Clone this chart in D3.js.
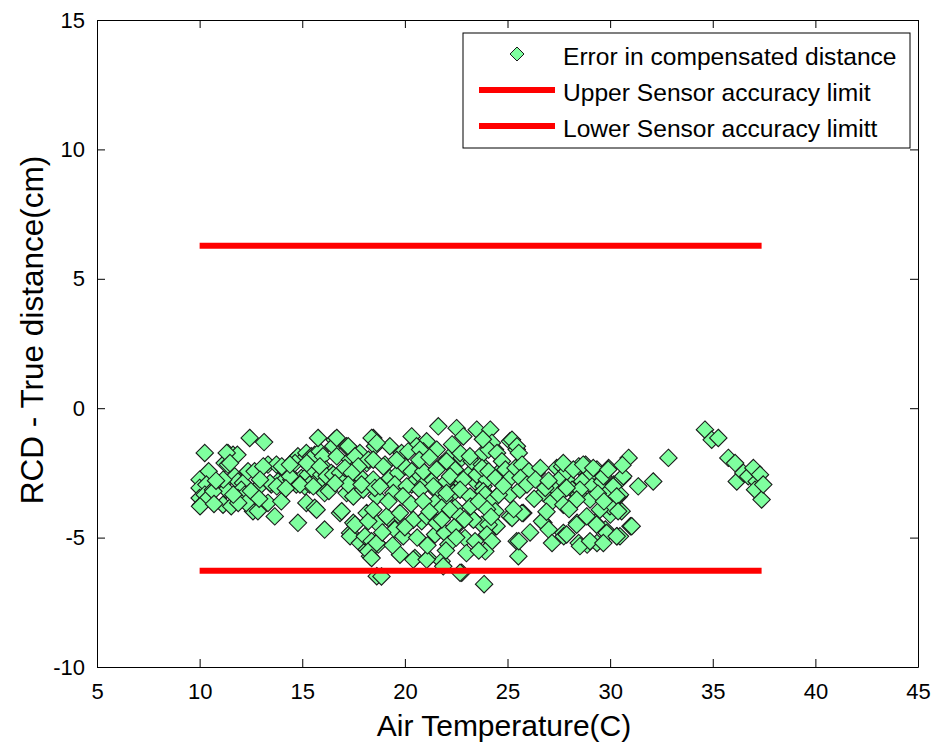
<!DOCTYPE html>
<html>
<head>
<meta charset="utf-8">
<script src="https://cdn.jsdelivr.net/npm/d3@7"></script>
<style>
  html, body { margin: 0; padding: 0; background: #fff; }
  svg { display: block; font-family: "Liberation Sans", Arial, sans-serif; }
</style>
</head>
<body>
<svg id="chart" width="936" height="744"></svg>
<script>
// ---- data ----
const xTicks = [5, 10, 15, 20, 25, 30, 35, 40, 45];
const yTicks = [-10, -5, 0, 5, 10, 15];
const xLabel = "Air Temperature(C)";
const yLabel = "RCD - True distance(cm)";
const legendLabels = ["Error in compensated distance", "Upper Sensor accuracy limit", "Lower Sensor accuracy limitt"];

// accuracy limits (start temp, end temp, value)
const limitTemps = [10, 37.38];
const upperLimit = 6.28;
const lowerLimit = -6.28;

// scatter: air temperature (C)
const temps = [
10.25,12.44,13.14,11.38,11.63,11.84,11.22,11.38,10.44,10.0,10.0,10.0,10.08,10.33,10.25,10.41,10.65,11.22,11.30,11.14,
11.54,11.71,11.87,12.11,12.03,11.87,12.20,12.36,12.68,12.60,12.84,11.95,12.27,13.00,13.33,13.49,13.74,13.82,14.15,14.06,
13.33,13.98,13.66,14.79,16.09,14.55,14.79,15.04,15.20,15.44,15.61,15.85,16.01,15.77,16.58,14.31,14.47,14.71,14.96,15.12,
15.28,15.52,15.77,15.93,16.17,16.41,15.36,15.85,16.09,15.20,15.61,
11.32,11.48,10.67,10.02,11.15,11.88,11.64,13.43,14.00,13.76,14.40,14.65,14.89,15.54,15.70,16.51,16.68,17.16,17.33,17.81,
18.46,18.14,13.10,12.94,14.40,15.22,15.86,16.19,16.51,16.84,17.16,17.49,17.81,17.16,17.49,17.97,18.46,18.63,18.14,17.49,
16.84,17.33,18.63,17.33,17.81,18.14,18.30,18.63,
21.63,22.52,22.85,23.50,20.33,21.06,20.57,21.55,20.90,16.68,17.24,18.38,18.54,19.27,19.84,20.16,17.57,18.22,17.73,17.08,
17.41,17.24,17.89,18.54,19.03,19.27,19.68,19.51,20.00,20.33,20.65,20.33,20.98,21.30,20.82,21.55,21.79,22.12,22.44,22.77,
22.69,23.10,23.42,23.26,23.75,23.83,22.03,22.36,21.95,21.47,21.79,22.44,16.92,17.57,18.22,18.05,18.38,18.22,18.38,18.70,
19.19,19.68,19.51,19.92,19.76,20.49,21.14,20.82,21.30,21.47,21.95,22.12,22.60,22.93,23.26,23.42,23.75,21.79,22.77,18.86,
23.86,
20.74,18.63,18.46,22.03,22.69,23.17,23.82,24.39,25.12,25.45,18.95,20.90,21.55,22.20,22.85,23.50,23.99,24.63,25.12,25.77,
26.42,27.40,27.88,18.79,19.44,20.09,20.74,21.39,22.03,22.69,23.17,23.82,24.47,25.12,25.60,26.75,27.40,18.46,19.11,19.76,
20.41,21.06,21.55,22.20,22.69,23.34,24.47,25.12,25.77,26.75,27.72,18.63,20.41,21.06,21.87,22.69,25.45,25.53,
24.16,25.22,25.46,25.55,24.24,24.08,24.49,23.76,24.08,24.41,24.73,24.90,25.14,25.39,25.71,26.04,25.63,25.95,26.60,26.36,
26.84,27.17,27.66,27.58,27.90,28.15,27.82,27.50,28.47,28.80,28.96,28.64,28.47,29.12,29.36,29.61,29.93,29.85,30.18,30.59,
30.42,30.90,23.92,24.24,24.57,24.41,24.08,24.00,24.24,23.92,25.22,25.71,25.55,26.68,27.01,27.17,27.74,28.39,28.47,28.88,
29.28,29.36,29.77,30.34,30.01,30.99,
32.84,30.64,31.37,32.10,30.48,30.56,31.05,30.48,34.62,34.95,35.27,35.76,36.09,36.17,36.49,36.73,36.98,37.14,37.30,37.06,
37.38,37.46,
27.72,28.21,28.69,29.18,29.67,29.91,30.15,30.32,29.99,30.39,29.50,29.02,28.53,27.88,28.37,27.72,28.86,28.37,29.34,29.83,
30.32,27.88,28.53,29.02,29.67,
19.2,19.9,20.3,20.9,21.2,21.8,22.4,22.9,23.2,23.6,24.0,20.0,20.6,21.1,22.0,22.5,23.0,23.6,24.2,19.4,
18.9,16.3,16.6,14.2,12.5,12.9,10.8,10.7,26.3,26.9,27.0,28.0,29.4,29.7,30.6,24.8,25.3,26.1,19.6,20.7,
21.2,22.3,23.8
];
// scatter: error (cm)
const errors = [
-1.73,-1.15,-1.31,-1.73,-1.80,-1.80,-2.12,-2.18,-2.44,-2.76,-3.08,-3.47,-3.73,-2.95,-3.34,-3.47,-3.15,-2.83,-3.15,-3.73,
-3.79,-2.63,-2.83,-2.89,-3.15,-3.47,-3.34,-2.44,-2.44,-3.98,-3.98,-3.60,-3.66,-2.95,-2.18,-2.95,-2.18,-2.83,-2.37,-2.83,
-3.66,-3.60,-4.18,-4.43,-4.69,-2.05,-1.86,-1.99,-1.73,-1.86,-1.80,-1.67,-1.86,-1.15,-1.22,-2.50,-2.76,-2.95,-2.70,-3.02,
-2.57,-2.37,-2.76,-2.57,-2.37,-2.50,-2.95,-3.02,-3.28,-3.66,-3.85,
-1.73,-2.12,-3.21,-3.79,-2.76,-3.66,-3.34,-2.89,-2.25,-3.02,-2.63,-2.12,-2.95,-3.02,-3.92,-1.47,-1.86,-1.47,-1.99,-1.73,
-1.15,-2.12,-2.25,-2.76,-2.18,-2.12,-2.25,-2.63,-2.57,-2.50,-2.76,-2.37,-2.63,-3.28,-3.41,-3.15,-2.76,-3.41,-4.05,-4.43,
-4.05,-4.82,-4.43,-4.95,-5.21,-5.46,-5.72,-6.49,
-0.70,-0.77,-1.09,-0.83,-1.09,-1.28,-1.47,-1.60,-1.67,-1.15,-1.47,-1.15,-1.47,-1.47,-1.73,-1.67,-1.86,-1.99,-2.25,-2.31,
-2.50,-2.95,-2.95,-3.08,-2.18,-2.70,-2.50,-2.95,-2.25,-2.44,-2.70,-2.95,-2.50,-2.83,-3.02,-3.21,-2.18,-1.92,-2.37,-1.92,
-2.83,-2.57,-2.83,-2.05,-2.18,-3.02,-2.83,-3.28,-3.47,-3.66,-3.85,-3.85,-3.98,-4.50,-4.37,-4.95,-5.14,-5.53,-5.79,-5.27,
-4.24,-4.11,-4.69,-4.95,-5.66,-5.79,-5.79,-4.37,-4.24,-4.88,-4.82,-5.27,-4.50,-5.02,-4.24,-5.14,-4.50,-5.91,-6.36,-6.50,
-6.80,
-1.60,-1.34,-1.99,-2.05,-1.73,-1.86,-1.73,-1.60,-1.28,-1.60,-2.25,-2.44,-2.37,-2.63,-2.76,-2.57,-2.76,-2.44,-2.63,-2.37,
-2.50,-2.31,-2.76,-3.02,-3.28,-3.02,-3.15,-3.02,-3.28,-3.15,-3.41,-3.21,-3.41,-3.34,-3.15,-3.28,-3.15,-3.92,-4.18,-4.05,
-4.31,-4.18,-4.43,-3.92,-4.18,-4.31,-4.56,-4.18,-4.05,-4.43,-4.82,-5.21,-5.85,-5.85,-6.11,-6.36,-5.14,-5.72,
-0.83,-1.22,-1.47,-1.73,-1.34,-1.60,-1.73,-2.31,-2.44,-2.70,-2.05,-2.37,-2.70,-2.31,-2.18,-2.44,-2.70,-2.95,-2.31,-2.76,
-3.08,-3.60,-2.25,-2.70,-2.44,-3.15,-3.08,-3.34,-2.25,-2.18,-2.63,-2.83,-3.34,-3.02,-2.37,-2.83,-2.31,-3.28,-2.95,-2.70,
-3.41,-1.92,-3.34,-3.60,-3.34,-3.98,-4.50,-4.88,-5.14,-5.53,-4.24,-4.05,-5.14,-4.37,-4.69,-5.21,-4.95,-4.43,-5.21,-5.27,
-4.43,-5.21,-4.69,-4.95,-4.11,-4.56,
-1.92,-2.63,-3.02,-2.83,-3.34,-3.98,-4.56,-4.95,-0.83,-1.22,-1.15,-1.92,-2.12,-2.83,-2.50,-2.63,-2.31,-2.83,-2.57,-3.15,
-3.53,-2.95,
-2.12,-2.37,-2.18,-2.31,-2.63,-2.37,-3.02,-3.41,-3.79,-3.98,-3.92,-3.53,-3.15,-3.08,-3.53,-3.73,-4.18,-4.50,-4.50,-4.82,
-4.95,-4.88,-5.33,-5.14,-5.21,
-3.6,-3.4,-3.7,-3.6,-4.0,-4.3,-4.6,-4.3,-3.8,-3.6,-3.9,-4.6,-5.0,-5.3,-5.5,-5.0,-5.6,-5.5,-4.2,-5.3,
-4.8,-3.2,-2.9,-3.1,-3.2,-3.5,-2.8,-3.7,-3.5,-4.0,-2.8,-3.9,-3.3,-3.6,-2.2,-3.0,-3.9,-4.8,-2.0,-2.0,
-1.9,-1.4,-1.2
];

// ---- drawing ----
const svg = d3.select("#chart");
const mLeft = 97, mRight = 918, mTop = 20, mBottom = 667;
const x = d3.scaleLinear().domain([5, 45]).range([mLeft, mRight]);
const y = d3.scaleLinear().domain([-10, 15]).range([mBottom, mTop]);

svg.append("rect").attr("x", 0).attr("y", 0).attr("width", 936).attr("height", 744).attr("fill", "#fff");

// scatter points
const pts = temps.map((t, i) => ({ t, e: errors[i] }));
const rr = 8.7;
const dPath = `M0,${-rr}L${rr},0L0,${rr}L${-rr},0Z`;
svg.append("g").selectAll("path").data(pts).join("path")
  .attr("d", dPath)
  .attr("transform", d => `translate(${x(d.t)},${y(d.e)})`)
  .attr("fill", "#7fff9f")
  .attr("stroke", "#1a1a1a")
  .attr("stroke-width", 1.1);

// limit lines
const line = d3.line().x(d => x(d[0])).y(d => y(d[1]));
[upperLimit, lowerLimit].forEach(v => {
  svg.append("path")
    .attr("d", line(limitTemps.map(t => [t, v])))
    .attr("stroke", "#ff0000")
    .attr("stroke-width", 6)
    .attr("fill", "none");
});

// axes
const fontTick = 22;
function styleAxis(g) {
  g.selectAll("path.domain").attr("stroke", "#000").attr("stroke-width", 1);
  g.selectAll(".tick line").attr("stroke", "#000").attr("stroke-width", 1);
  g.selectAll(".tick text").attr("fill", "#000").attr("font-size", fontTick)
    .attr("font-family", "Liberation Sans, Arial, sans-serif");
}
svg.append("g").attr("transform", `translate(0,${mBottom})`)
  .call(d3.axisBottom(x).tickValues(xTicks).tickFormat(d3.format("d")).tickSizeInner(-8).tickSizeOuter(0).tickPadding(16))
  .call(styleAxis);
svg.append("g").attr("transform", `translate(0,${mTop})`)
  .call(d3.axisTop(x).tickValues(xTicks).tickFormat("").tickSizeInner(-8).tickSizeOuter(0))
  .call(styleAxis);
svg.append("g").attr("transform", `translate(${mLeft},0)`)
  .call(d3.axisLeft(y).tickValues(yTicks).tickFormat(d3.format("d")).tickSizeInner(-8).tickSizeOuter(0).tickPadding(12))
  .call(styleAxis);
svg.append("g").attr("transform", `translate(${mRight},0)`)
  .call(d3.axisRight(y).tickValues(yTicks).tickFormat("").tickSizeInner(-8).tickSizeOuter(0))
  .call(styleAxis);
svg.selectAll(".tick text").text(function() { return this.textContent.replace("\u2212", "-"); });

// axis labels
svg.append("text").attr("x", 504).attr("y", 736)
  .attr("text-anchor", "middle").attr("font-size", 30).attr("fill", "#000").text(xLabel);
svg.append("text").attr("transform", `translate(43,330) rotate(-90)`)
  .attr("text-anchor", "middle").attr("font-size", 31.5).attr("fill", "#000").text(yLabel);

// legend
const lg = svg.append("g");
lg.append("rect").attr("x", 463).attr("y", 33).attr("width", 447).attr("height", 115)
  .attr("fill", "#fff").attr("stroke", "#000").attr("stroke-width", 1);
const rowY = [56, 92, 128];
legendLabels.forEach((lab, i) => {
  if (i === 0) {
    lg.append("path").attr("d", `M0,-7L7,0L0,7L-7,0Z`)
      .attr("transform", `translate(517,${rowY[i] - 2})`)
      .attr("fill", "#7fff9f").attr("stroke", "#1a1a1a").attr("stroke-width", 1);
  } else {
    lg.append("line").attr("x1", 479).attr("x2", 555).attr("y1", rowY[i] - 2).attr("y2", rowY[i] - 2)
      .attr("stroke", "#ff0000").attr("stroke-width", 6);
  }
  lg.append("text").attr("x", 563).attr("y", rowY[i]).attr("dy", "0.35em")
    .attr("font-size", 24.6).attr("fill", "#000").text(lab);
});
</script>
</body>
</html>
